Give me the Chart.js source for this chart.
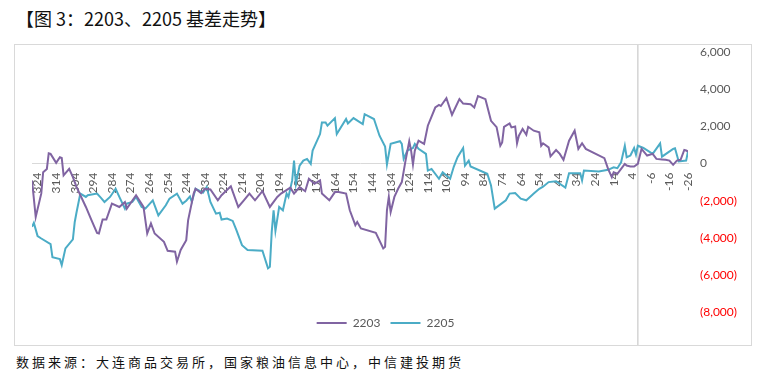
<!DOCTYPE html>
<html>
<head>
<meta charset="utf-8">
<script src="https://cdn.jsdelivr.net/npm/chart.js@4.4.1/dist/chart.umd.min.js"></script>
<style>
  html, body { margin: 0; padding: 0; background: #ffffff; }
  body { width: 766px; height: 382px; position: relative; overflow: hidden; }
  #title { position: absolute; left: 16px; top: 5px; font-family: "Noto Sans CJK SC", sans-serif; font-size: 18px; color: #111; white-space: nowrap; line-height: 26px; }
  #frame { position: absolute; left: 14px; top: 44px; width: 736px; height: 300px; border: 1px solid #d9d9d9; }
  #wrap { position: absolute; left: 15px; top: 45px; width: 736px; height: 300px; }
  #source { position: absolute; left: 16px; top: 352px; font-family: "Noto Sans CJK SC", sans-serif; font-size: 13px; letter-spacing: 3px; color: #111; white-space: nowrap; line-height: 20px; }
</style>
</head>
<body>
<div id="title">【图 3：2203、2205 基差走势】</div>
<div id="frame"></div>
<div id="wrap"><canvas id="c"></canvas></div>
<div id="source">数据来源：大连商品交易所，国家粮油信息中心，中信建投期货</div>
<script>
// ---- data (days to expiry -> basis) ----
const seriesNames = ['2203', '2205'];

const days2203 = [327,325,322,321,319,318,317,314,312,311,310,307,305,303,298,295,292,291,289,287,284,280,277,276,271,267,265,263,261,256,254,250,249,247,244,243,240,239,236,234,231,227,225,220,216,213,210,207,203,199,195,193,188,186,183,180,178,175,172,171,167,164,162,158,156,153,152,150,142,138,137,136,135,134,132,130,128,126,124,123,122,121,119,116,114,110,108,107,104,101,97,95,91,89,87,83,80,77,75,74,73,70,69,67,66,65,63,61,60,57,54,53,52,49,48,45,43,41,38,35,33,31,29,19,17,15,14,12,10,8,7,5,3,1,-1,-4,-7,-9,-12,-14,-16,-18,-20,-22,-24,-25,-26];
const basis2203 = [-910,-2880,-1610,-470,-290,550,520,40,340,300,-640,-290,-730,-1270,-2340,-3050,-3740,-3770,-3020,-3020,-2160,-2340,-2070,-2430,-1710,-2340,-3770,-3230,-3770,-4220,-4700,-4750,-5290,-4660,-4130,-3060,-1620,-1360,-1590,-1360,-1400,-1980,-1710,-1230,-2340,-1980,-1620,-1980,-1490,-2340,-1800,-1620,-1300,-1620,-1270,-1490,-820,-1090,-910,-1620,-1980,-1540,-1540,-1620,-2520,-3320,-3150,-3500,-3730,-4570,-4480,-2520,-1800,-2610,-1800,-1360,-1000,160,1200,700,-50,700,1230,1060,2040,3020,3160,3100,3520,2630,3470,3230,3200,3020,3640,3470,2300,1960,960,1140,1980,2160,1950,2000,1090,1500,1860,1550,1980,1770,1680,960,1090,870,390,730,520,200,1230,1770,790,1090,790,290,-290,-730,-470,-550,-290,-20,-110,-160,-160,-20,790,430,520,250,220,200,160,-70,160,200,730,700,650];

const days2205 = [327,326,324,322,317,316,312,311,309,305,304,303,301,298,297,292,290,288,285,282,280,277,276,273,271,268,266,262,259,255,253,249,246,244,242,241,239,235,233,231,228,226,225,222,219,217,214,211,203,200,199,198,197,196,194,192,190,189,187,186,185,183,181,179,177,176,172,171,169,168,164,163,158,157,154,149,148,143,140,137,136,134,129,128,127,125,122,121,119,115,114,112,108,106,104,102,100,98,95,94,92,91,82,80,78,72,70,67,64,61,58,57,54,52,49,45,40,38,32,31,30,22,17,14,12,10,8,7,5,3,2,1,-2,-7,-11,-12,-18,-19,-21,-25,-26];
const basis2205 = [-3410,-3200,-3910,-4040,-4340,-5050,-5150,-5470,-4570,-4090,-3150,-2610,-1620,-1800,-1710,-1620,-1840,-2070,-1800,-1360,-1800,-2430,-2160,-2070,-1800,-2340,-2430,-1980,-2790,-2250,-1890,-1620,-2160,-2000,-1770,-2070,-1360,-1570,-1270,-2070,-2700,-2650,-3020,-2960,-3090,-3590,-4400,-4660,-4700,-5640,-5560,-3680,-2520,-3630,-2340,-2520,-1620,-1800,-910,160,-1090,-110,160,250,-20,700,1590,2210,2210,2040,2450,1590,2400,2160,2450,2130,2660,2400,1500,910,-50,1060,1200,1060,250,700,840,1060,790,520,-380,-290,-820,-470,-640,-820,-160,340,840,-110,160,-160,-550,-1180,-2430,-1980,-1620,-1590,-1890,-1980,-1710,-1620,-1360,-1250,-1000,-950,-1300,-520,-520,-910,-380,-430,-340,-200,-250,70,960,340,430,840,480,960,840,520,1090,370,790,820,110,160,660];

const xTickValues = [324,314,304,294,284,274,264,254,244,234,224,214,204,194,184,174,164,154,144,134,124,114,104,94,84,74,64,54,44,34,24,14,4,-6,-16,-26];
const yTickValues = [6000,4000,2000,0,-2000,-4000,-6000,-8000];
const markerDay = [1];

const colors = ['#8064A2', '#4BACC6'];
const FONT = 'Lato, "Liberation Sans", sans-serif';

function pairs(xs, ys) { return xs.map((d, i) => ({ x: d, y: ys[i] })); }

const markerPlugin = {
  id: 'marker',
  afterLayout(chart) {
    const lg = chart.legend;
    if (lg) { lg.top -= 5; lg.bottom -= 5; lg.left -= 6; lg.right -= 6; }
  },
  beforeDatasetsDraw(chart) {
    const ctx = chart.ctx;
    const x = chart.scales.x.getPixelForValue(markerDay[0]);
    ctx.save();
    ctx.strokeStyle = '#d4d4d4';
    ctx.lineWidth = 1.5;
    ctx.beginPath();
    ctx.moveTo(x, 0);
    ctx.lineTo(x, chart.height);
    ctx.stroke();
    ctx.restore();
  }
};

function fmt(v) {
  const s = Math.abs(v).toLocaleString('en-US');
  return v < 0 ? '(' + s + ')' : s;
}

new Chart(document.getElementById('c'), {
  type: 'line',
  data: {
    datasets: [
      { label: seriesNames[0], data: pairs(days2203, basis2203), borderColor: colors[0], backgroundColor: colors[0], borderWidth: 2, pointRadius: 0, tension: 0, fill: false },
      { label: seriesNames[1], data: pairs(days2205, basis2205), borderColor: colors[1], backgroundColor: colors[1], borderWidth: 2, pointRadius: 0, tension: 0, fill: false }
    ]
  },
  options: {
    responsive: true,
    maintainAspectRatio: false,
    animation: false,
    devicePixelRatio: 1,
    layout: { padding: { left: 17, top: 0, right: 0, bottom: 1 } },
    plugins: {
      tooltip: { enabled: false },
      legend: {
        position: 'bottom',
        labels: {
          boxWidth: 30,
          boxHeight: 2,
          padding: 10,
          color: '#595959',
          font: { family: FONT, size: 12 },
          generateLabels(chart) {
            return chart.data.datasets.map((ds, i) => ({
              text: ds.label, fillStyle: ds.borderColor, strokeStyle: ds.borderColor,
              lineWidth: 0, datasetIndex: i, hidden: false, fontColor: '#595959'
            }));
          }
        }
      }
    },
    scales: {
      x: {
        type: 'linear',
        reverse: true,
        min: -26,
        max: 327,
        position: { y: 0 },
        grid: { display: false },
        border: { display: true, color: '#d9d9d9', width: 1 },
        afterBuildTicks(scale) { scale.ticks = xTickValues.map(v => ({ value: v })); },
        ticks: {
          autoSkip: false,
          minRotation: 90,
          maxRotation: 90,
          padding: 1,
          color: '#595959',
          font: { family: FONT, size: 12 },
          callback: v => String(v)
        }
      },
      y: {
        position: 'right',
        min: -8000,
        max: 6000,
        grid: { display: false, tickLength: 12 },
        border: { display: false },
        afterBuildTicks(scale) { scale.ticks = yTickValues.map(v => ({ value: v })); },
        afterFit(scale) { scale.width = 63; },
        ticks: {
          padding: 0,
          color: ctx => (ctx.tick && ctx.tick.value < 0 ? '#ff0000' : '#595959'),
          font: { family: FONT, size: 12 },
          callback: v => fmt(v)
        }
      }
    }
  },
  plugins: [markerPlugin]
});
</script>
</body>
</html>
